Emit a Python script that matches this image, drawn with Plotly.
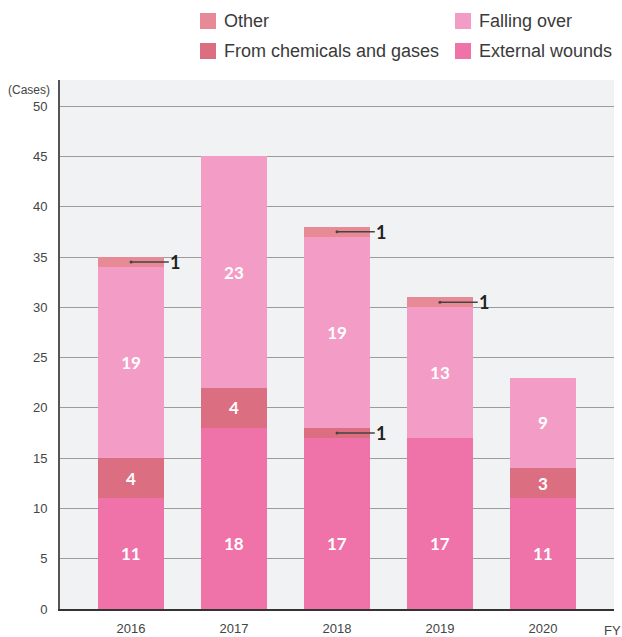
import plotly.graph_objects as go

years = ["2016", "2017", "2018", "2019", "2020"]
external_wounds = [11, 18, 17, 17, 11]
chemicals_gases = [4, 4, 1, 0, 3]
falling_over = [19, 23, 19, 13, 9]
other = [1, 0, 1, 1, 0]

series = [
    ("External wounds", external_wounds, "#ef72a9"),
    ("From chemicals and gases", chemicals_gases, "#dc6e81"),
    ("Falling over", falling_over, "#f39cc5"),
    ("Other", other, "#e78a96"),
]

W, H = 622, 637
ML, MR, MT, MB = 60, 8, 80, 28
PW = W - ML - MR
PH = H - MT - MB
BOTTOM_LABEL_Y = 6.5  # bottom-segment labels sit at a common height

label_font = dict(color="white", size=17, family="Lato, Arial", weight="bold")


def px(x):
    return (x - ML) / PW


def py(y):
    return (H - MB - y) / PH


fig = go.Figure()
xs = list(range(len(years)))
annotations = []
for k, (name, vals, col) in enumerate(series):
    if k == 0:
        txt = None
        for i, v in enumerate(vals):
            annotations.append(dict(x=i, y=min(BOTTOM_LABEL_Y, v / 2) if v < 2 * BOTTOM_LABEL_Y else BOTTOM_LABEL_Y,
                                    xref="x", yref="y", text=str(v), showarrow=False,
                                    font=label_font, xanchor="center", yanchor="middle"))
    else:
        txt = [str(v) if v >= 2 else "" for v in vals]
    fig.add_trace(go.Bar(
        x=xs, y=vals, name=name, marker=dict(color=col, line=dict(width=0)),
        width=0.64,
        text=txt,
        textposition="inside", insidetextanchor="middle",
        textfont=label_font,
        hoverinfo="skip", showlegend=False,
    ))

# leader-line labels for small segments
cum = [0] * len(years)
for name, vals, col in series:
    for i, v in enumerate(vals):
        if 0 < v < 2:
            mid = cum[i] + v / 2
            annotations.append(dict(
                x=i, y=mid, xref="x", yref="y", ax=i + 0.43, ay=mid,
                axref="x", ayref="y", text=str(v), showarrow=True,
                arrowhead=6, arrowsize=0.5, arrowwidth=1.5, arrowcolor="#444",
                font=dict(size=18, color="#222", family="Lato, Arial", weight="bold"),
                xanchor="center", yanchor="middle",
            ))
        cum[i] += v

# custom legend (two columns)
legend_items = [
    ("Other", "#e78a96", 200, 21),
    ("Falling over", "#f39cc5", 455, 21),
    ("From chemicals and gases", "#dc6e81", 200, 51),
    ("External wounds", "#ef72a9", 455, 51),
]
shapes = []
for name, col, lx, ly in legend_items:
    shapes.append(dict(type="rect", xref="paper", yref="paper",
                       x0=px(lx), x1=px(lx + 16), y0=py(ly + 8), y1=py(ly - 8),
                       fillcolor=col, line=dict(width=0)))
    annotations.append(dict(x=px(lx + 22), y=py(ly), xref="paper", yref="paper",
                            text=name, showarrow=False, xanchor="left", yanchor="middle",
                            font=dict(size=18, color="#3a3a3a", family="Liberation Sans, Arial")))

annotations.append(dict(x=px(52), y=py(90), xref="paper", yref="paper", text="(Cases)",
                        showarrow=False, xanchor="right", yanchor="middle",
                        font=dict(size=12, color="#444", family="Liberation Sans, Arial")))
annotations.append(dict(x=px(612), y=py(630), xref="paper", yref="paper", text="FY",
                        showarrow=False, xanchor="center", yanchor="middle",
                        font=dict(size=13, color="#444", family="Liberation Sans, Arial")))

fig.update_layout(
    barmode="stack",
    width=W, height=H,
    margin=dict(l=ML, r=MR, t=MT, b=MB),
    paper_bgcolor="white",
    plot_bgcolor="#f1f2f4",
    shapes=shapes,
    annotations=annotations,
    xaxis=dict(
        tickmode="array", tickvals=xs, ticktext=years,
        range=[-0.69, 4.69], showgrid=False, zeroline=False,
        showline=True, linecolor="#333", linewidth=2,
        ticks="outside", ticklen=6, tickcolor="rgba(0,0,0,0)",
        tickfont=dict(size=13, color="#444", family="Liberation Sans, Arial"),
        fixedrange=True, automargin=False,
    ),
    yaxis=dict(
        range=[0, 52.6], tickvals=[0, 5, 10, 15, 20, 25, 30, 35, 40, 45, 50],
        showgrid=True, gridcolor="#9b9b9b", gridwidth=1,
        zeroline=False, showline=True, linecolor="#555", linewidth=2,
        ticks="outside", ticklen=8, tickcolor="rgba(0,0,0,0)",
        tickfont=dict(size=13, color="#444", family="Liberation Sans, Arial"),
        fixedrange=True, automargin=False,
    ),
)

fig.write_html("out.html")
